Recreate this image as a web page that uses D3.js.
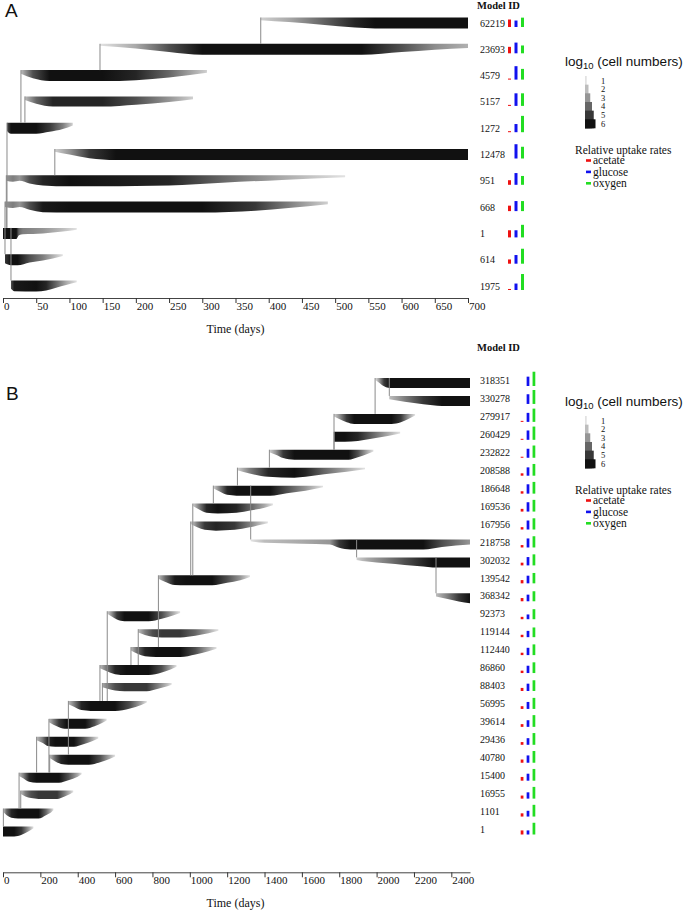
<!DOCTYPE html>
<html><head><meta charset="utf-8">
<script src="https://cdn.jsdelivr.net/npm/d3@7"></script>
<style>body{margin:0;background:#fff}svg{display:block}</style>
</head><body>
<svg id="c" width="685" height="912"></svg>
<script>
// ---------------- DATA ----------------
// Panel A
const idsA = ["62219","23693","4579","5157","1272","12478","951","668","1","614","1975"];
const parentsA = ["23693","4579","1272","1272","1","951","1","1","","1","1"];
// profiles: [time (days), log10 cell number]
const profilesA = [
  [[388,1.5],[430,2.5],[480,4],[530,5.5],[560,6],[700,6]],
  [[146,1],[200,2.5],[250,4.5],[300,6],[540,6],[600,4.5],[650,3.2],[700,2.3]],
  [[27,2],[45,4.5],[70,6],[150,6],[200,5.5],[250,4],[307,1.5]],
  [[33,2],[50,4],[75,5.5],[150,5.5],[200,4.5],[250,3],[286,1.5]],
  [[6,4.5],[12,6],[50,6],[70,5],[90,3.5],[105,1.5]],
  [[78,1.5],[100,3],[130,5],[170,6],[700,6]],
  [[5,3],[15,3.5],[25,3],[40,4.5],[60,5.5],[100,6],[250,5.5],[330,4],[420,2.5],[515,1]],
  [[3,3],[15,3.5],[25,3],[40,4.5],[60,5.8],[100,6],[300,6],[380,5],[430,3.5],[489,1.5]],
  [[0,6],[20,6],[24,4],[30,3.5],[60,3],[90,2],[111,1]],
  [[3,5],[12,6],[22,6],[40,4.5],[60,3.5],[90,1]],
  [[12,4.5],[17,5.8],[50,6],[65,5.5],[80,4],[95,2.5],[111,1]]
];
const acetateA = [0.44,0.38,0.06,0.06,0.06,0.00,0.27,0.32,0.42,0.25,0.06];
const glucoseA = [0.38,0.63,0.79,0.74,0.48,0.84,0.69,0.59,0.42,0.51,0.38];
const oxygenA  = [0.55,0.46,0.63,0.74,0.96,0.69,0.52,0.59,0.74,0.88,0.94];
const ticksA = [0,50,100,150,200,250,300,350,400,450,500,550,600,650,700];

// Panel B
const idsB = ["318351","330278","279917","260429","232822","208588","186648","169536","167956","218758","302032","139542","368342",
              "92373","119144","112440","86860","88403","56995","39614","29436","40780","15400","16955","1101","1"];
const parentsB = ["279917","318351","232822","232822","208588","186648","169536","139542","139542","186648","218758","112440","302032",
                  "56995","86860","86860","56995","56995","40780","15400","15400","15400","1101","1101","1",""];
const profilesB = [
  [[1992,1],[2010,2.5],[2040,5],[2070,6],[2500,6]],
  [[2068,2],[2150,3.5],[2250,5],[2350,6],[2500,6]],
  [[1772,1.5],[1800,3],[1840,5],[1880,6],[2080,6],[2130,5],[2170,3],[2206,1]],
  [[1772,6],[1830,6],[1900,5.5],[1980,4],[2060,2.5],[2126,1]],
  [[1426,1.5],[1460,3],[1500,5],[1560,6],[1850,6],[1900,4.5],[1950,2.5],[1983,1]],
  [[1255,1.5],[1320,3.5],[1420,5.5],[1560,6],[1620,5.5],[1720,4],[1840,2.5],[1938,1]],
  [[1126,1.5],[1160,3.5],[1200,5.5],[1250,6],[1430,6],[1520,4.5],[1620,3],[1713,1]],
  [[1016,1.5],[1050,3.5],[1090,5.5],[1150,6],[1250,5.5],[1330,4],[1400,2.5],[1445,1]],
  [[1005,1.5],[1040,3.5],[1080,5],[1140,5.5],[1240,5],[1320,3.5],[1380,2],[1418,1]],
  [[1326,1],[1400,2],[1600,2.5],[1750,3],[1800,5],[1860,6],[2250,6],[2350,4.5],[2500,3]],
  [[1893,1.5],[1950,2.5],[2050,3.5],[2150,4.5],[2250,5.5],[2300,6],[2500,6]],
  [[832,2],[870,4],[920,5.8],[980,6],[1120,6],[1200,4.5],[1270,3],[1322,1]],
  [[2318,2],[2380,3.5],[2440,5],[2500,6]],
  [[558,1.5],[580,3],[610,5],[650,6],[780,6],[850,4.5],[910,2.5],[948,1]],
  [[724,2],[760,3.5],[800,4.5],[850,5],[950,5],[1030,4],[1100,2.5],[1153,1]],
  [[685,2],[720,4],[760,5.5],[820,6],[950,6],[1030,4.5],[1100,2.5],[1143,1]],
  [[519,2],[550,3.5],[600,5.5],[660,6],[780,6],[850,4.5],[900,2.5],[929,1]],
  [[532,2.5],[560,3.5],[600,4.5],[650,5],[770,5],[830,3.5],[880,2],[903,1]],
  [[350,2],[380,3.5],[420,5.5],[470,6],[600,6],[680,4.5],[740,2.5],[770,1]],
  [[246,2],[270,3.5],[300,5],[340,6],[440,6],[490,4.5],[530,2.5],[555,1]],
  [[180,2],[210,3.5],[240,5.5],[280,6],[380,6],[430,4.5],[480,2.5],[510,1]],
  [[250,2],[280,4],[310,5.5],[350,6],[460,6],[520,4.5],[570,2.5],[600,1]],
  [[86,2],[110,3.5],[140,5.5],[180,6],[300,6],[350,4.5],[400,2.5],[421,1]],
  [[95,2],[120,3.5],[150,4.5],[190,5],[290,5],[330,3.5],[360,2],[376,1]],
  [[2,2],[20,4],[45,5.5],[80,6],[190,6],[230,4],[260,2],[270,1]],
  [[0,6],[60,6],[100,5],[135,3],[163,1]]
];
const acetateB = [0.00,0.00,0.06,0.06,0.06,0.14,0.14,0.16,0.14,0.14,0.16,0.19,0.19,0.14,0.14,0.14,0.14,0.18,0.16,0.16,0.16,0.19,0.22,0.18,0.19,0.24];
const glucoseB = [0.55,0.57,0.53,0.55,0.53,0.49,0.55,0.55,0.53,0.53,0.49,0.45,0.39,0.28,0.37,0.43,0.43,0.43,0.41,0.39,0.39,0.43,0.41,0.37,0.34,0.24];
const oxygenB  = [0.84,0.82,0.78,0.78,0.72,0.69,0.69,0.69,0.66,0.66,0.65,0.61,0.59,0.59,0.57,0.63,0.63,0.63,0.65,0.69,0.69,0.69,0.69,0.69,0.69,0.69];
const ticksB = [0,200,400,600,800,1000,1200,1400,1600,1800,2000,2200,2400];

const levels = [1,2,3,4,5,6];
const uptakeNames = ["acetate","glucose","oxygen"];
const uptakeColors = ["#ee1111","#1111ee","#22dd22"];

// ---------------- DRAWING ----------------
const svg = d3.select("#c");
const defs = svg.append("defs");
const gray = d3.scaleLinear().domain([0,1,2,3,4,5,6])
  .range(["#ffffff","#e2e2e2","#bdbdbd","#959595","#666666","#383838","#111111"]);
const SERIF = "Liberation Serif, Times New Roman, serif";
const SANS = "Liberation Sans, Arial, sans-serif";
let gid = 0;

function panel(o) {
  const g = svg.append("g");
  const x = d3.scaleLinear().domain(o.domain).range(o.xRange);
  const y = d3.scalePoint().domain(o.ids).range(o.yRange);
  const h = d3.scaleLinear().domain([0,6]).range([0,o.bandH]);
  const top = id => y(id) + o.bandOff;

  // bands
  o.ids.forEach((id,i) => {
    const prof = o.profiles[i];
    const x1 = x(prof[0][0]), x2 = x(prof[prof.length-1][0]);
    const gradId = "grad" + (gid++);
    const lg = defs.append("linearGradient").attr("id",gradId)
      .attr("gradientUnits","userSpaceOnUse")
      .attr("x1",x1).attr("x2",x2).attr("y1",0).attr("y2",0);
    prof.forEach(d => lg.append("stop")
      .attr("offset",(x(d[0])-x1)/(x2-x1)).attr("stop-color",gray(d[1])));
    const area = d3.area().x(d => x(d[0])).y0(top(id)).y1(d => top(id)+h(d[1]))
      .curve(d3.curveMonotoneX);
    g.append("path").datum(prof).attr("d",area).attr("fill",`url(#${gradId})`);
  });

  // connectors
  o.ids.forEach((id,i) => {
    const p = o.parents[i];
    if (!p) return;
    const xt = x(o.profiles[i][0][0]);
    g.append("line").attr("x1",xt).attr("x2",xt)
      .attr("y1",top(id)).attr("y2",top(p))
      .attr("stroke","#8a8a8a").attr("stroke-width",1);
  });

  // axis
  const ax = d3.axisBottom(x).tickValues(o.ticks).tickSize(5).tickSizeOuter(0).tickFormat(d3.format("d"));
  const ag = g.append("g").attr("transform",`translate(0,${o.axisY})`).call(ax);
  ag.attr("font-family",SERIF).attr("font-size",11);
  ag.select(".domain").attr("stroke","#444");
  ag.selectAll(".tick line").attr("stroke","#333");
  ag.selectAll(".tick text").attr("text-anchor","start").attr("x",0.5).attr("y",4).attr("dy","0.71em").attr("fill","#111");
  g.append("text").attr("x",(o.xRange[0]+468)/2).attr("y",o.axisY+35)
    .attr("text-anchor","middle").attr("font-family",SERIF).attr("font-size",12).attr("fill","#111").text("Time (days)");

  // Model IDs
  g.append("text").attr("x",477).attr("y",o.headerY).attr("font-family",SERIF)
    .attr("font-weight","bold").attr("font-size",10.5).attr("fill","#111").text("Model ID");
  g.selectAll(".lab").data(o.ids).join("text").attr("class","lab")
    .attr("x",480).attr("y",d => y(d)+3.5).attr("font-family",SERIF).attr("font-size",10)
    .attr("fill","#111").text(d => d);

  // uptake bars
  const bx = d3.scaleBand().domain(uptakeNames).range(o.barRange).paddingInner(0.54);
  const by = d3.scaleLinear().domain([0,1]).range([0,17]);
  const series = [o.acetate,o.glucose,o.oxygen];
  o.ids.forEach((id,i) => {
    const bottom = y(id) + o.barOff;
    series.forEach((s,k) => {
      if (s[i] <= 0) return;
      g.append("rect").attr("x",bx(uptakeNames[k])).attr("width",bx.bandwidth())
        .attr("y",bottom - by(s[i])).attr("height",by(s[i])).attr("fill",uptakeColors[k]);
    });
  });

  // legend
  const tb = o.legendY;
  const lt = g.append("text").attr("x",565).attr("y",tb).attr("font-family",SANS).attr("font-size",13.5).attr("fill","#111");
  lt.append("tspan").text("log");
  lt.append("tspan").attr("font-size",9.5).attr("dy",3).text("10");
  lt.append("tspan").attr("dy",-3).text(" (cell numbers)");
  const lvTop = d3.scaleLinear().domain([1,6]).range([tb+10, tb+53.3]);
  const lvW = d3.scaleLinear().domain([0,6]).range([0,10.5]);
  levels.forEach(k => {
    g.append("rect").attr("x",585).attr("y",lvTop(k)).attr("width",lvW(k))
      .attr("height",tb+62.3-lvTop(k)).attr("fill",gray(k));
  });
  levels.forEach(k => {
    g.append("text").attr("x",601).attr("y",lvTop(k)+7.5).attr("font-family",SERIF)
      .attr("font-size",8.5).attr("fill","#111").text(k);
  });
  g.append("text").attr("x",575).attr("y",tb+87.5).attr("font-family",SERIF)
    .attr("font-size",11.5).attr("fill","#111").text("Relative uptake rates");
  uptakeNames.forEach((n,k) => {
    const cy = tb + 94.5 + k*11.4;
    g.append("rect").attr("x",586).attr("y",cy-1.3).attr("width",5).attr("height",2.6).attr("fill",uptakeColors[k]);
    g.append("text").attr("x",593).attr("y",cy+3.6).attr("font-family",SERIF)
      .attr("font-size",11.5).attr("fill","#111").text(n);
  });

  // panel letter
  g.append("text").attr("x",o.letterX).attr("y",o.letterY).attr("font-family",SANS)
    .attr("font-size",19).attr("fill","#111").text(o.letter);
}

panel({
  letter:"A", letterX:5, letterY:17,
  ids:idsA, parents:parentsA, profiles:profilesA,
  acetate:acetateA, glucose:glucoseA, oxygen:oxygenA, ticks:ticksA,
  domain:[0,700], xRange:[3,468], yRange:[23,286],
  bandOff:-5.5, bandH:11, barOff:4, barRange:[508,524],
  axisY:298, headerY:8.5, legendY:66
});
panel({
  letter:"B", letterX:6, letterY:400,
  ids:idsB, parents:parentsB, profiles:profilesB,
  acetate:acetateB, glucose:glucoseB, oxygen:oxygenB, ticks:ticksB,
  domain:[0,2500], xRange:[3,470], yRange:[380.7,829.2],
  bandOff:-2.7, bandH:10, barOff:5.3, barRange:[520.7,535.3],
  axisY:872.3, headerY:350.5, legendY:406
});
</script>
</body></html>
